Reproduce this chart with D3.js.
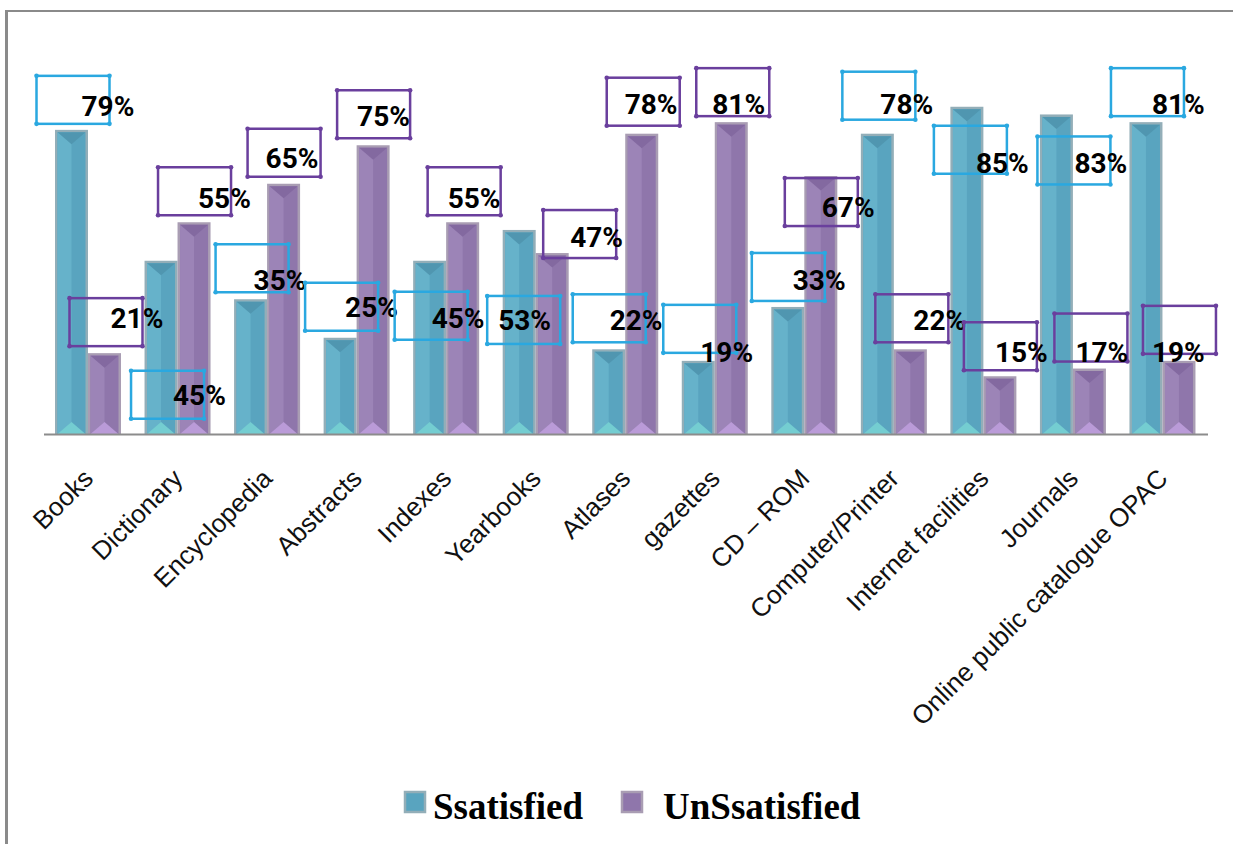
<!DOCTYPE html>
<meta charset="utf-8">
<style>
  body { margin: 0; background: #fff; }
  .cat text { font: 26px "Liberation Sans", Arial, sans-serif; fill: #111; }
  .pct { font: bold 28px Roboto, sans-serif; fill: #000; }
  .legend text { font: bold 37px "Liberation Serif", "Times New Roman", serif; fill: #000; }
</style>
<svg width="1233" height="844"></svg>
<script src="https://d3js.org/d3.v7.min.js"></script>
<script>

var categories = ["Books", "Dictionary", "Encyclopedia", "Abstracts", "Indexes", "Yearbooks",
  "Atlases", "gazettes", "CD \u2013 ROM", "Computer/Printer", "Internet facilities", "Journals",
  "Online public catalogue OPAC"];
var satisfied   = [79, 45, 35, 25, 45, 53, 22, 19, 33, 78, 85, 83, 81];
var unsatisfied = [21, 55, 65, 75, 55, 47, 78, 81, 67, 22, 15, 17, 19];
var seriesNames = ["Ssatisfied", "UnSsatisfied"];

// label box placement relative to bar top-centre: [box dx, box dy, text dx, text dy]
var satLabelPos = [[-35,-54,45,30],[-30,110,42,24],[-35,-55,38,36],[-35,-55,40,24],[-35,31,37,26],
  [-32,66,11,24],[-36,-55,37,26],[-35,-56,37,47],[-36,-54,41,27],[-35,-62,38,32],[-33,19,42,37],
  [-19,22,37,26],[-35,-54,41,36]];
var unsatLabelPos = [[-35,-55,41,20],[-36,-55,40,31],[-36,-55,18,29],[-36,-55,20,26],[-35,-55,20,31],
  [-9,-43,27,27],[-35,-56,18,26],[-35,-54,16,36],[-36,2,37,29],[-35,-55,38,26],[-36,-54,31,30],
  [-35,-55,21,38],[-36,-55,9,46]];

var styles = [
  {edge: "#93aeb8", base: "#59a4bf", light: "#66b2ca", top: "#5096b0", bottom: "#74cdd1", box: "#2aa8e0"},
  {edge: "#a99db3", base: "#8f76ab", light: "#9c84b7", top: "#8369a0", bottom: "#ba9bd8", box: "#6a3f9d"}
];

var svg = d3.select("svg");

// frame
svg.append("line").attr("x1", 5).attr("x2", 1233).attr("y1", 11).attr("y2", 11)
  .attr("stroke", "#8a8a8a").attr("stroke-width", 2);
svg.append("line").attr("x1", 6.5).attr("x2", 6.5).attr("y1", 10).attr("y2", 844)
  .attr("stroke", "#8a8a8a").attr("stroke-width", 3);

var x0 = d3.scaleBand().domain(categories).range([44, 1208]);
var x1 = d3.scaleBand().domain(seriesNames).range([11, 77]);
var y = d3.scaleLinear().domain([0, 100]).range([434, 49]);

var rows = categories.map(function(c, i) {
  return {cat: c, i: i, vals: [satisfied[i], unsatisfied[i]]};
});

function drawBar(g, bx, by, w, h, st) {
  g.append("rect").attr("x", bx).attr("y", by).attr("width", w).attr("height", h).attr("fill", st.edge);
  var e = 2.5, ix = bx + e, iw = w - 2 * e, iy = by + e, ih = h - e;
  g.append("rect").attr("x", ix).attr("y", iy).attr("width", iw).attr("height", ih).attr("fill", st.base);
  g.append("rect").attr("x", ix).attr("y", iy).attr("width", iw / 2).attr("height", ih).attr("fill", st.light);
  var d = Math.min(12, ih / 2);
  g.append("path").attr("fill", st.top)
    .attr("d", "M" + ix + "," + iy + "L" + (ix + iw) + "," + iy + "L" + (ix + iw / 2) + "," + (iy + d) + "Z");
  g.append("path").attr("fill", st.bottom)
    .attr("d", "M" + ix + "," + (iy + ih) + "L" + (ix + iw) + "," + (iy + ih) + "L" + (ix + iw / 2) + "," + (iy + ih - d) + "Z");
}

var bars = svg.append("g");
rows.forEach(function(r) {
  r.vals.forEach(function(v, k) {
    var bx = x0(r.cat) + x1(seriesNames[k]);
    drawBar(bars, bx, y(v), x1.bandwidth(), y(0) - y(v), styles[k]);
  });
});

// baseline
svg.append("line").attr("x1", 44).attr("x2", 1208).attr("y1", 434.5).attr("y2", 434.5)
  .attr("stroke", "#8c8c8c").attr("stroke-width", 2);

// value labels in boxes
var labels = svg.append("g");
rows.forEach(function(r) {
  r.vals.forEach(function(v, k) {
    var p = (k === 0 ? satLabelPos : unsatLabelPos)[r.i];
    var cx = x0(r.cat) + x1(seriesNames[k]) + x1.bandwidth() / 2;
    var bx = cx + p[0], by = y(v) + p[1], bw = 73, bh = 48;
    var col = styles[k].box;
    labels.append("rect").attr("x", bx).attr("y", by).attr("width", bw).attr("height", bh)
      .attr("fill", "none").attr("stroke", col).attr("stroke-width", 2.5);
    [[bx, by], [bx + bw, by], [bx, by + bh], [bx + bw, by + bh]].forEach(function(c) {
      labels.append("circle").attr("cx", c[0]).attr("cy", c[1]).attr("r", 2.3).attr("fill", col);
    });
    labels.append("text").attr("class", "pct")
      .attr("x", bx + p[2]).attr("y", by + p[3]).attr("dy", "0.36em")
      .text(v + "%");
  });
});

// category axis labels
var cat = svg.append("g").attr("class", "cat");
cat.selectAll("text").data(categories).enter().append("text")
  .attr("text-anchor", "end")
  .attr("transform", function(d) {
    return "translate(" + (x0(d) + x0.bandwidth() / 2 + 6) + ",480) rotate(-45)";
  })
  .text(function(d) { return d; });

// legend
var legend = svg.append("g").attr("class", "legend");
var legX = [405, 622], legTextX = [433, 663];
seriesNames.forEach(function(s, k) {
  legend.append("rect").attr("x", legX[k]).attr("y", 792).attr("width", 20).attr("height", 20)
    .attr("fill", styles[k].base).attr("stroke", styles[k].edge).attr("stroke-width", 2.5);
  legend.append("text").attr("x", legTextX[k]).attr("y", 819).text(s);
});

</script>
